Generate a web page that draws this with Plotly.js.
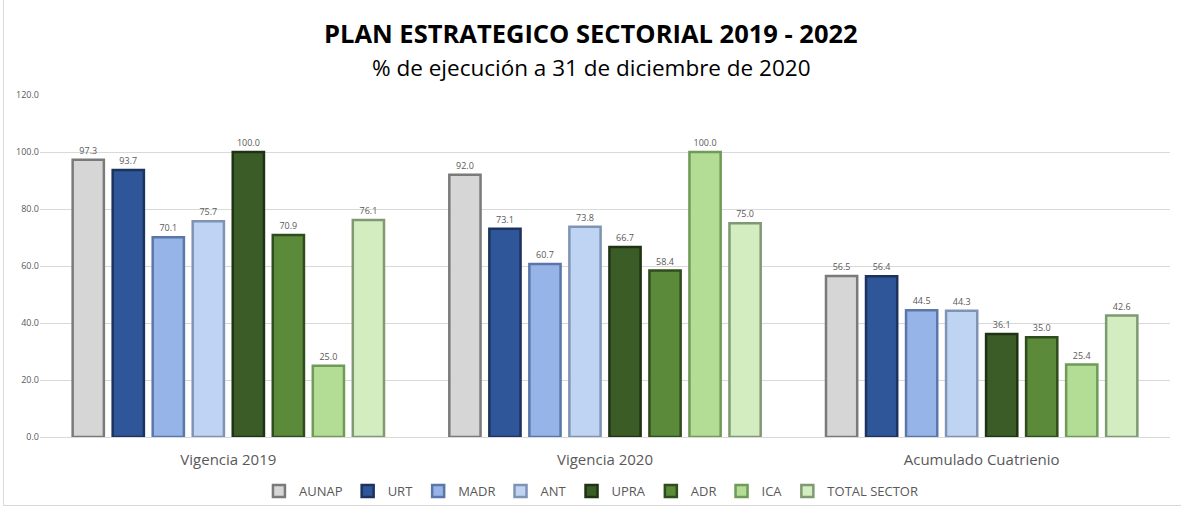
<!DOCTYPE html>
<html><head><meta charset="utf-8">
<script src="https://cdn.plot.ly/plotly-3.0.1.min.js"></script>
<style>html,body{margin:0;padding:0;background:#fff;}#wrap{position:relative;width:1181px;height:508px;}#chart{width:1181px;height:508px;}#frame{position:absolute;left:3px;top:-2px;width:1190px;height:506px;border:1px solid #d9d9d9;pointer-events:none;}</style>
</head><body><div id="wrap"><div id="chart"></div><div id="frame"></div></div>
<script>
const categories = ["Vigencia 2019", "Vigencia 2020", "Acumulado Cuatrienio"];
const seriesNames = ["AUNAP", "URT", "MADR", "ANT", "UPRA", "ADR", "ICA", "TOTAL SECTOR"];
const AUNAP = [97.3, 92.0, 56.5];
const URT = [93.7, 73.1, 56.4];
const MADR = [70.1, 60.7, 44.5];
const ANT = [75.7, 73.8, 44.3];
const UPRA = [100.0, 66.7, 36.1];
const ADR = [70.9, 58.4, 35.0];
const ICA = [25.0, 100.0, 25.4];
const TOTAL_SECTOR = [76.1, 75.0, 42.6];
const yTicks = [0, 20, 40, 60, 80, 100, 120];

const values = [AUNAP, URT, MADR, ANT, UPRA, ADR, ICA, TOTAL_SECTOR];
const fills = ["#d6d6d6", "#2f5699", "#97b4e8", "#bfd3f3", "#3b5c27", "#5a8a3a", "#b3dc95", "#d3edc0"];
const edges = ["#7a7a7a", "#1c335e", "#5b76a8", "#7f93b5", "#1f3314", "#2f4d1c", "#6f9a58", "#7f9972"];

const traces = seriesNames.map((n, i) => ({
  type: "bar",
  name: n,
  x: categories,
  y: values[i],
  text: values[i].map(v => v.toFixed(1)),
  textposition: "outside",
  textfont: {size: 9, color: "#595959", family: "Open Sans, sans-serif"},
  cliponaxis: false,
  marker: {color: fills[i], line: {color: edges[i], width: 2.5}},
  hoverinfo: "x+y+name"
}));

const layout = {
  width: 1181, height: 508,
  margin: {l: 40, r: 11, t: 95, b: 71, autoexpand: false},
  paper_bgcolor: "#ffffff", plot_bgcolor: "#ffffff",
  barmode: "group", bargap: 0.15, bargroupgap: 0.22,
  font: {family: "Open Sans, sans-serif", color: "#595959"},
  showlegend: true,
  legend: {orientation: "h", x: 0.488, xanchor: "center", y: -0.158, yanchor: "middle",
           font: {size: 13, color: "#595959"}, itemwidth: 30, traceorder: "normal"},
  xaxis: {type: "category", showgrid: false, zeroline: false, showline: false, automargin: false,
          tickfont: {size: 15, color: "#595959"}, ticks: "", ticklabelstandoff: 12},
  yaxis: {range: [0, 120], tickvals: yTicks, ticktext: yTicks.map(v => v.toFixed(1)), automargin: false,
          showgrid: true, gridcolor: "#d9d9d9", gridwidth: 1, zeroline: true, zerolinecolor: "#d9d9d9",
          tickfont: {size: 9, color: "#595959"}, ticks: "", showline: false, fixedrange: true},
  annotations: [
    {text: "<b>PLAN ESTRATEGICO SECTORIAL 2019 - 2022</b>", xref: "paper", yref: "paper", x: 0.488, y: 1.181,
     xanchor: "center", yanchor: "middle", showarrow: false, font: {size: 25.5, color: "#000000", family: "Open Sans, sans-serif"}},
    {text: "% de ejecución a 31 de diciembre de 2020", xref: "paper", yref: "paper", x: 0.488, y: 1.079,
     xanchor: "center", yanchor: "middle", showarrow: false, font: {size: 22.5, color: "#000000", family: "Open Sans, sans-serif"}}
  ]
};

Plotly.newPlot("chart", traces, layout, {displayModeBar: false, staticPlot: true});
</script></body></html>
